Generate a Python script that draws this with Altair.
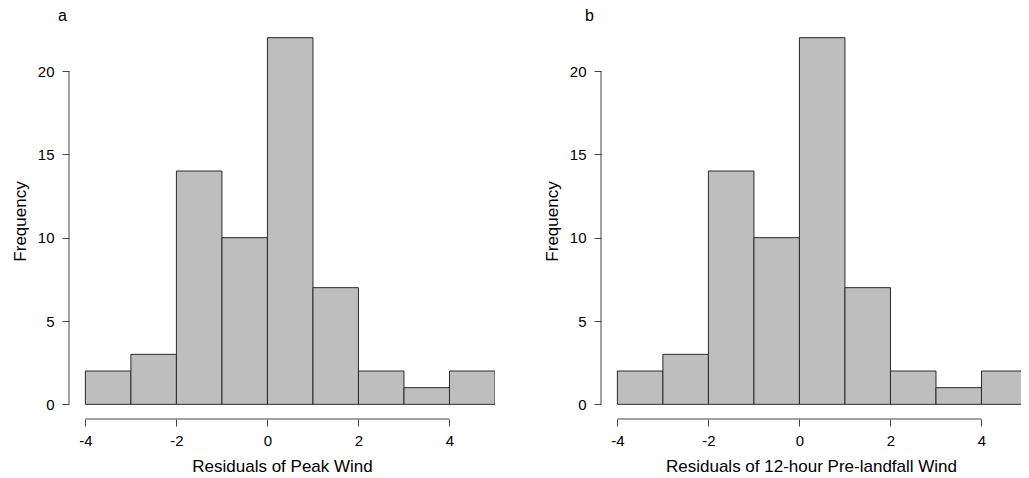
import altair as alt
import pandas as pd

# ---- data ----
bin_start = [-4, -3, -2, -1, 0, 1, 2, 3, 4]
bin_end = [-3, -2, -1, 0, 1, 2, 3, 4, 5]
counts_a = [2, 3, 14, 10, 22, 7, 2, 1, 2]
counts_b = [2, 3, 14, 10, 22, 7, 2, 1, 2]
x_ticks = [-4, -2, 0, 2, 4]
y_ticks = [0, 5, 10, 15, 20]
panel_letters = ["a", "b"]
x_titles = ["Residuals of Peak Wind", "Residuals of 12-hour Pre-landfall Wind"]
y_title = "Frequency"

FONT = "Liberation Sans"
AX = "#444444"
H = 396
W_A = 426
W_B = 420
X_LO = -4.36
UNIT = W_A / 9.36
Y_DOMAIN = [-0.88, 22.88]


def panel(counts, letter, xtitle, letter_dx, width):
    df = pd.DataFrame({"start": bin_start, "end": bin_end, "count": counts})
    xs = alt.Scale(domain=[X_LO, X_LO + width / UNIT], nice=False, zero=False)
    ys = alt.Scale(domain=Y_DOMAIN, nice=False, zero=False)
    xaxis = alt.Axis(
        values=x_ticks, title=xtitle, domain=False, grid=False,
        tickSize=7, tickColor=AX, tickWidth=1, labelPadding=7,
        labelExpr="toString(datum.value)",
        labelFont=FONT, labelFontSize=15, labelColor="#000",
        titleFont=FONT, titleFontSize=17, titleFontWeight="normal",
        titleColor="#000", titlePadding=10, labelFlush=False)
    yaxis = alt.Axis(
        values=y_ticks, title=y_title, domain=False, grid=False,
        tickSize=7, tickColor=AX, tickWidth=1, labelPadding=8,
        labelFont=FONT, labelFontSize=15, labelColor="#000", labelAngle=0,
        titleFont=FONT, titleFontSize=17, titleFontWeight="normal",
        titleColor="#000", titlePadding=8, labelFlush=False)
    bars = alt.Chart(df).mark_bar(
        fill="#BEBEBE", stroke="#2a2a2a", strokeWidth=1, clip=True
    ).encode(
        x=alt.X("start:Q", scale=xs, axis=xaxis),
        x2="end:Q",
        y=alt.Y("count:Q", scale=ys, axis=yaxis),
        y2=alt.datum(0),
    )
    xdom = pd.DataFrame({"start": [min(x_ticks)], "end": [max(x_ticks)]})
    rule_x = alt.Chart(xdom).mark_rule(color=AX, strokeWidth=1).encode(
        x=alt.X("start:Q", scale=xs, axis=xaxis), x2="end:Q", y=alt.value(H)
    )
    ydom = pd.DataFrame({"count": [min(y_ticks)], "count_top": [max(y_ticks)]})
    rule_y = alt.Chart(ydom).mark_rule(color=AX, strokeWidth=1).encode(
        y=alt.Y("count:Q", scale=ys, axis=yaxis), y2="count_top:Q", x=alt.value(0)
    )
    lab = alt.Chart(pd.DataFrame({"t": [letter]})).mark_text(
        font=FONT, fontSize=16, color="#000", align="center", baseline="alphabetic"
    ).encode(text="t:N", x=alt.value(letter_dx), y=alt.value(-2))
    return alt.layer(bars, rule_x, rule_y, lab).properties(width=width, height=H)


pa = panel(counts_a, panel_letters[0], x_titles[0], -6.5, W_A)
pb = panel(counts_b, panel_letters[1], x_titles[1], -11.5, W_B)

chart = alt.hconcat(pa, pb, spacing=48).properties(
    padding={"left": 3, "top": 0, "right": 0, "bottom": 0}
).configure_view(stroke=None)

chart.save("out.html", embed_options={"renderer": "svg", "actions": False})
